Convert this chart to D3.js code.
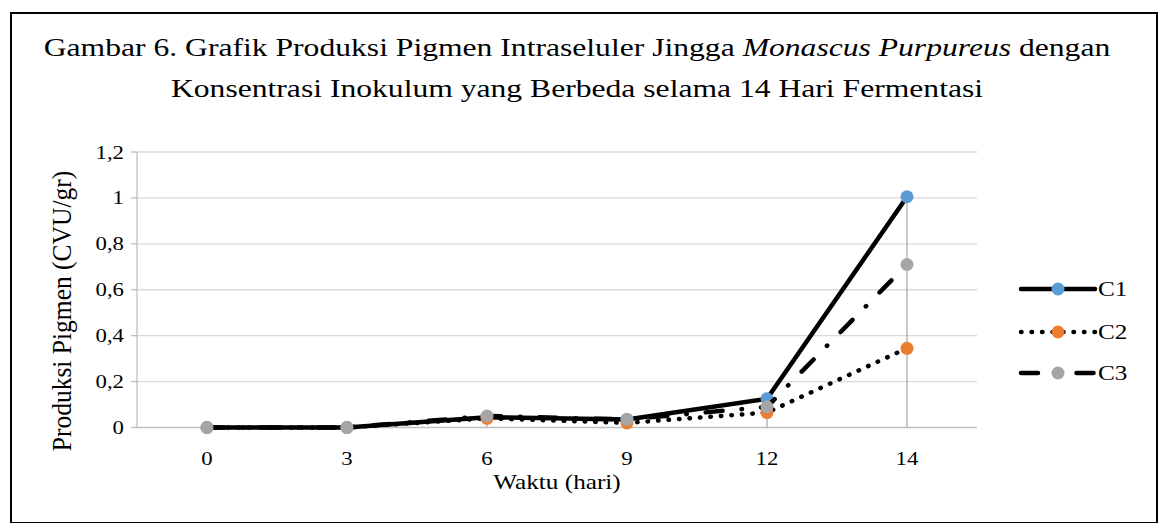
<!DOCTYPE html>
<html>
<head>
<meta charset="utf-8">
<script src="https://cdn.jsdelivr.net/npm/d3@7"></script>
<style>
  body { margin: 0; background: #fff; }
  svg { display: block; }
  text { font-family: "Liberation Serif", "Times New Roman", serif; fill: #000; }
</style>
</head>
<body>
<script>
// chart data
const days = ["0", "3", "6", "9", "12", "14"];
const seriesNames = ["C1", "C2", "C3"];
const c1 = [0, 0, 0.045, 0.035, 0.125, 1.005];
const c2 = [0, 0, 0.04, 0.02, 0.065, 0.345];
const c3 = [0, 0, 0.05, 0.035, 0.09, 0.71];
const yTicks = [0, 0.2, 0.4, 0.6, 0.8, 1, 1.2];
const yTickLabels = ["0", "0,2", "0,4", "0,6", "0,8", "1", "1,2"];
const markerColors = ["#5b9bd5", "#ed7d31", "#a5a5a5"];

const W = 1158, H = 523;
const sx = 1.2; // source picture is a bit stretched sideways

const svg = d3.select("body").append("svg")
    .attr("width", W)
    .attr("height", H);

// frame
svg.append("rect")
    .attr("x", 11).attr("y", 13)
    .attr("width", 1146).attr("height", 510)
    .attr("fill", "none")
    .attr("stroke", "#000")
    .attr("stroke-width", 2);

// helper: text stretched horizontally around its anchor point
function label(x, y, str, size, anchor, scale) {
    return svg.append("text")
        .attr("transform", `translate(${x},${y}) scale(${scale || sx},1)`)
        .attr("text-anchor", anchor || "middle")
        .style("font-size", size + "px")
        .text(str);
}

// title, first line fitted to the width it has in the picture
const t1 = svg.append("text")
    .attr("text-anchor", "middle")
    .style("font-size", "26px");
t1.append("tspan").text("Gambar 6. Grafik Produksi Pigmen Intraseluler Jingga ");
t1.append("tspan").style("font-style", "italic").text("Monascus Purpureus");
t1.append("tspan").text(" dengan");
const titleScale = 1067 / t1.node().getBBox().width;
t1.attr("transform", `translate(577,56) scale(${titleScale},1)`);
label(577, 97, "Konsentrasi Inokulum yang Berbeda selama 14 Hari Fermentasi", 26, "middle", titleScale);

// scales
const x = d3.scalePoint().domain(days).range([137, 977]).padding(0.5);
const y = d3.scaleLinear().domain([0, 1.2]).range([427.5, 152]);

// gridlines
svg.append("g").selectAll("line")
    .data(yTicks.slice(1))
    .join("line")
    .attr("x1", 137).attr("x2", 977)
    .attr("y1", d => y(d)).attr("y2", d => y(d))
    .attr("stroke", "#d9d9d9")
    .attr("stroke-width", 1.3);

// y axis line + ticks
svg.append("line")
    .attr("x1", 137).attr("x2", 137)
    .attr("y1", y(1.2)).attr("y2", y(0))
    .attr("stroke", "#bfbfbf").attr("stroke-width", 1.3);
svg.append("g").selectAll("line")
    .data(yTicks)
    .join("line")
    .attr("x1", 131).attr("x2", 137)
    .attr("y1", d => y(d)).attr("y2", d => y(d))
    .attr("stroke", "#bfbfbf").attr("stroke-width", 1.3);

// x axis line
svg.append("line")
    .attr("x1", 137).attr("x2", 977)
    .attr("y1", y(0)).attr("y2", y(0))
    .attr("stroke", "#bfbfbf").attr("stroke-width", 1.3);

// drop lines
const maxVals = days.map((d, i) => Math.max(c1[i], c2[i], c3[i]));
svg.append("g").selectAll("line")
    .data(days)
    .join("line")
    .attr("x1", d => x(d)).attr("x2", d => x(d))
    .attr("y1", (d, i) => y(maxVals[i])).attr("y2", y(0))
    .attr("stroke", "#a6a6a6").attr("stroke-width", 1.2);

// tick labels
yTicks.forEach((v, i) => {
    label(124, y(v) + 6.5, yTickLabels[i], 19, "end");
});
days.forEach(d => {
    label(x(d), 465, d, 19);
});

// axis titles
label(557, 489, "Waktu (hari)", 21);
svg.append("text")
    .attr("transform", `translate(71,311) scale(1.1,1) rotate(-90)`)
    .attr("text-anchor", "middle")
    .style("font-size", "25.5px")
    .text("Produksi Pigmen (CVU/gr)");

// series
const allSeries = [c1, c2, c3];
const dashes = [null, "0.5,10", "17,19,0.5,19"];
const line = d3.line()
    .x((v, i) => x(days[i]))
    .y(v => y(v));

allSeries.forEach((vals, s) => {
    const g = svg.append("g");
    g.append("path")
        .attr("d", line(vals))
        .attr("fill", "none")
        .attr("stroke", "#000")
        .attr("stroke-width", 4.5)
        .attr("stroke-linecap", "round")
        .attr("stroke-linejoin", "round")
        .attr("stroke-dasharray", dashes[s]);
    g.selectAll("circle")
        .data(vals)
        .join("circle")
        .attr("cx", (v, i) => x(days[i]))
        .attr("cy", v => y(v))
        .attr("r", 6.5)
        .attr("fill", markerColors[s]);
});

// legend
const legendY = [289, 332, 373];
seriesNames.forEach((name, s) => {
    const ly = legendY[s];
    svg.append("line")
        .attr("x1", 1021).attr("x2", 1095)
        .attr("y1", ly).attr("y2", ly)
        .attr("stroke", "#000")
        .attr("stroke-width", 4.5)
        .attr("stroke-linecap", "round")
        .attr("stroke-dasharray", dashes[s]);
    svg.append("circle")
        .attr("cx", 1058).attr("cy", ly)
        .attr("r", 6.5)
        .attr("fill", markerColors[s]);
    label(1098, ly + 7, name, 21, "start");
});
</script>
</body>
</html>
